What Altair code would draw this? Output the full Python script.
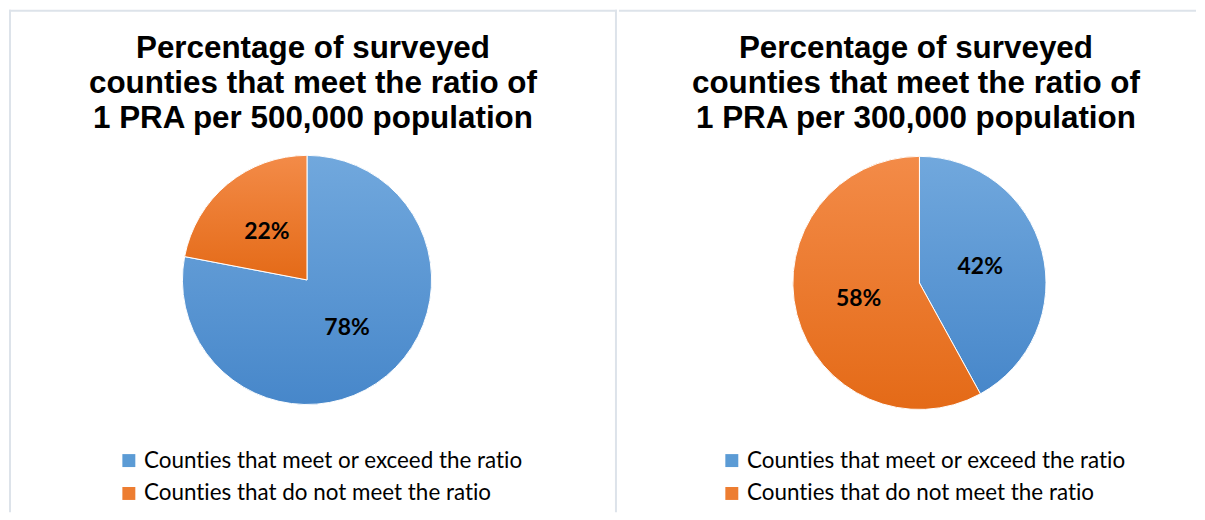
import altair as alt
import pandas as pd

categories = ["Counties that meet or exceed the ratio", "Counties that do not meet the ratio"]
left_values = [78, 22]
right_values = [42, 58]
left_title = ["Percentage of surveyed", "counties that meet the ratio of", "1 PRA per 500,000 population"]
right_title = ["Percentage of surveyed", "counties that meet the ratio of", "1 PRA per 300,000 population"]

BLUE = "#5B9BD5"
ORANGE = "#ED7D31"
GRADIENTS = [
    {"gradient": "linear", "x1": 0, "y1": 0, "x2": 0, "y2": 1,
     "stops": [{"offset": 0, "color": "#71A8DD"}, {"offset": 1, "color": "#4787CA"}]},
    {"gradient": "linear", "x1": 0, "y1": 0, "x2": 0, "y2": 1,
     "stops": [{"offset": 0, "color": "#F38B48"}, {"offset": 1, "color": "#E46A17"}]},
]
BORDER = "#DDE3EA"
H = 504


def make_df(values):
    df = pd.DataFrame({"category": categories, "value": values})
    df["end"] = df["value"].cumsum()
    df["start"] = df["end"] - df["value"]
    df["mid"] = (df["start"] + df["end"]) / 2
    df["label"] = df["value"].astype(str) + "%"
    return df


def panel(values, title, width, cx, cy, r, tx, lx, left_border):
    df = make_df(values)
    theta_scale = alt.Scale(domain=[0, 100], range=[0, 6.283185307179586])
    base = alt.Chart(df)
    layers = []
    legend_layer = base.mark_arc(radius=r).encode(
        theta=alt.Theta("start:Q", scale=theta_scale),
        theta2="end:Q",
        color=alt.Color(
            "category:N",
            scale=alt.Scale(domain=categories, range=[BLUE, ORANGE]),
            legend=alt.Legend(
                orient="none", legendX=lx, legendY=441, direction="vertical",
                title=None, symbolType="square", symbolSize=169,
                symbolStrokeWidth=0, labelFont="Lato", labelFontSize=22.5,
                labelColor="#000000", labelOffset=4, rowPadding=10,
                labelLimit=0, padding=0, symbolOpacity=1,
                labelExpr="replace(replace(datum.label, /ti/g, 't\u200ci'), /fi/g, 'f\u200ci')",
            ),
        ),
        x=alt.value(cx), y=alt.value(cy),
    )
    layers.append(legend_layer)
    for cat, grad in zip(categories, GRADIENTS):
        layers.append(
            base.transform_filter(alt.datum.category == cat)
            .mark_arc(radius=r, fill=grad, stroke="white", strokeWidth=1)
            .encode(
                theta=alt.Theta("start:Q", scale=theta_scale),
                theta2="end:Q",
                x=alt.value(cx), y=alt.value(cy),
            )
        )
    layers.append(
        base.mark_text(radius=63, font="Lato", fontWeight="bold", fontSize=23, color="black")
        .encode(
            theta=alt.Theta("mid:Q", scale=theta_scale),
            text="label:N",
            x=alt.value(cx), y=alt.value(cy),
        )
    )
    tdf = pd.DataFrame({"k": [0]})
    layers.append(
        alt.Chart(tdf).mark_text(
            text=title, font="Liberation Sans", fontWeight="bold", fontSize=31.5,
            lineHeight=35.5, align="center", baseline="alphabetic", color="black",
        ).encode(x=alt.value(tx), y=alt.value(48))
    )
    layers.append(
        alt.Chart(tdf).mark_rule(color=BORDER, strokeWidth=2).encode(
            x=alt.value(0), x2=alt.value(width), y=alt.value(1)
        )
    )
    if left_border:
        layers.append(
            alt.Chart(tdf).mark_rule(color=BORDER, strokeWidth=2).encode(
                x=alt.value(1), y=alt.value(0), y2=alt.value(H)
            )
        )
        layers.append(
            alt.Chart(tdf).mark_rule(color=BORDER, strokeWidth=2).encode(
                x=alt.value(width - 1), y=alt.value(0), y2=alt.value(H)
            )
        )
    return alt.layer(*layers).properties(width=width, height=H)


left = panel(left_values, left_title, 610, 299, 271, 125, 305, 109, True)
right = panel(right_values, right_title, 579, 301.5, 274, 127, 298, 102, False)

chart = (
    alt.hconcat(left, right, spacing=0)
    .resolve_scale(color="independent")
    .resolve_legend(color="independent")
    .configure_view(stroke=None)
    .properties(padding=0, background="white")
)

chart.save("out.html", embed_options={"renderer": "svg", "actions": False})
